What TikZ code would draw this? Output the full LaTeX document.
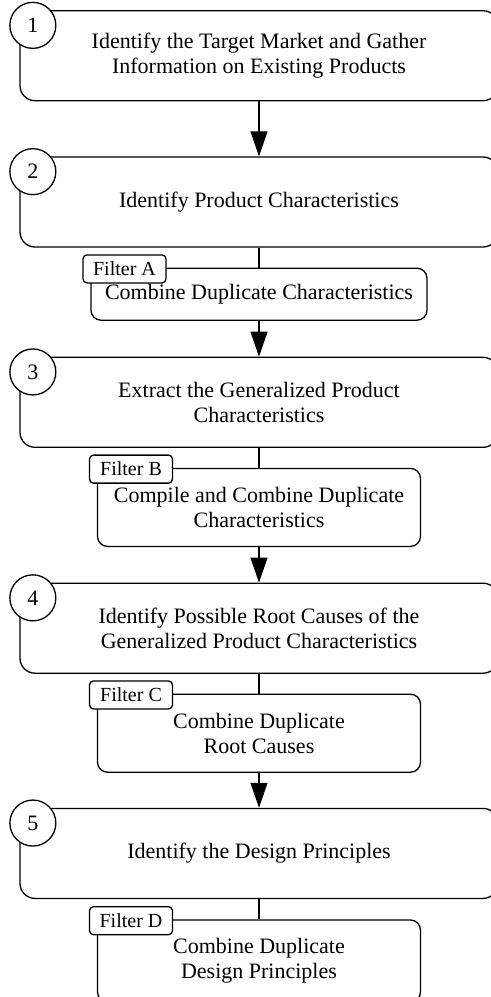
\documentclass[tikz,border=0pt]{standalone}
\usepackage{fontspec}
\setmainfont{Liberation Serif}
\usetikzlibrary{calc}
\usetikzlibrary{arrows.meta}

\tikzset{
  stepbox/.style={draw, line width=0.65pt, rounded corners=7.5pt, minimum width=239pt,
    minimum height=45pt, align=center, inner sep=0pt,
    font=\fontsize{11pt}{12.5pt}\selectfont},
  numcirc/.style={draw, circle, fill=white, line width=0.65pt, minimum size=23pt,
    inner sep=0pt, font=\fontsize{11pt}{12.5pt}\selectfont},
  filterbox/.style={draw, line width=0.65pt, rounded corners=5pt, minimum width=161.5pt,
    minimum height=39pt, align=center, inner sep=0pt,
    font=\fontsize{11pt}{12.5pt}\selectfont},
  filtertag/.style={draw, fill=white, line width=0.65pt, rounded corners=2pt,
    minimum width=41.5pt, minimum height=14pt, inner sep=0pt, anchor=north west,
    font=\fontsize{10pt}{12pt}\selectfont},
  flow/.style={line width=0.65pt, -{Triangle[length=12.5pt,width=8.5pt]}},
  link/.style={line width=0.65pt}
}

\begin{document}
\begin{tikzpicture}[x=0.5pt,y=-0.5pt]

\clip (0,0) rectangle (491,997);

\coordinate (S1) at (259,55.7);
\coordinate (S2) at (259,202);
\coordinate (FA) at (259,294.2);
\coordinate (S3) at (259,402.3);
\coordinate (FB) at (259,507.4);
\coordinate (S4) at (259,628.2);
\coordinate (FC) at (259,733.2);
\coordinate (S5) at (259,853.4);
\coordinate (FD) at (259,961);

\node[stepbox] (B1) at (S1) {Identify the Target Market and Gather\\Information on Existing Products};
\node[stepbox] (B2) at (S2) {Identify Product Characteristics};
\node[stepbox] (B3) at (S3) {Extract the Generalized Product\\Characteristics};
\node[stepbox] (B4) at (S4) {Identify Possible Root Causes of the\\Generalized Product Characteristics};
\node[stepbox] (B5) at (S5) {Identify the Design Principles};

\node[numcirc] (N1) at ($(B1.north west)+(13.5,15.3)$) {1};
\node[numcirc] (N2) at ($(B2.north west)+(13.5,15.3)$) {2};
\node[numcirc] (N3) at ($(B3.north west)+(13.5,15.3)$) {3};
\node[numcirc] (N4) at ($(B4.north west)+(13.5,15.3)$) {4};
\node[numcirc] (N5) at ($(B5.north west)+(13.5,15.3)$) {5};

\node[filterbox, minimum width=168pt, minimum height=26pt] (F1) at (FA) {Combine Duplicate Characteristics};
\node[filterbox] (F2) at (FB) {Compile and Combine Duplicate\\Characteristics};
\node[filterbox] (F3) at (FC) {Combine Duplicate\\Root Causes};
\node[filterbox, minimum height=41pt] (F4) at (FD) {Combine Duplicate\\Design Principles};

\node[filtertag] (T1) at ($(F1.north west)+(-8,-13.3)$) {Filter A};
\node[filtertag] (T2) at ($(F2.north west)+(-8,-13.3)$) {Filter B};
\node[filtertag] (T3) at ($(F3.north west)+(-8,-13.3)$) {Filter C};
\node[filtertag] (T4) at ($(F4.north west)+(-8,-13.3)$) {Filter D};

\draw[flow] (B1) -- (B2);
\draw[link] (B2) -- (F1);
\draw[flow] (F1) -- (B3);
\draw[link] (B3) -- (F2);
\draw[flow] (F2) -- (B4);
\draw[link] (B4) -- (F3);
\draw[flow] (F3) -- (B5);
\draw[link] (B5) -- (F4);

\end{tikzpicture}
\end{document}
